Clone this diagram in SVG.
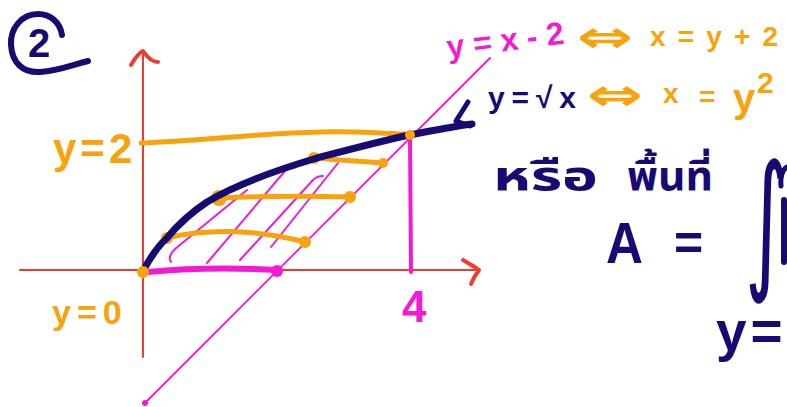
<svg xmlns="http://www.w3.org/2000/svg" width="787" height="407" viewBox="0 0 787 407">
<style>
.ax{stroke:#ee3b2b;fill:none;stroke-linecap:round;stroke-linejoin:round}
.nv{stroke:#170b73;fill:none;stroke-linecap:round;stroke-linejoin:round}
.or{stroke:#f8a20c;fill:none;stroke-linecap:round;stroke-linejoin:round}
.mg{stroke:#f21ad2;fill:none;stroke-linecap:round;stroke-linejoin:round}
.ord{fill:#f8a20c}
.mgd{fill:#f21ad2}
.t{font-family:"Liberation Sans",Arial,sans-serif;font-weight:bold}
.tn{fill:#170b73}
.to{fill:#f8a20c}
.tm{fill:#f21ad2}
.ar{font-family:"DejaVu Sans",sans-serif;font-weight:bold;fill:#f8a20c}
.th{font-family:"Noto Sans Thai","Noto Sans Thai Looped","Noto Sans","DejaVu Sans",sans-serif;font-weight:bold;fill:#170b73}
</style>
<rect width="787" height="407" fill="#ffffff"/>

<g id="label-2">
<path class="nv" stroke-width="6" d="M62,35 C60,22 50,14 38,14 C22,14 10,28 11,45 C12,62 22,73 40,72 C58,71 72,65 88,61"/>
<text class="t tn" x="28" y="57" font-size="40">2</text>
</g>

<g id="axes">
<path class="ax" stroke-width="2" d="M143,52 L143,357"/>
<path class="ax" stroke-width="4" d="M131,65 C135,58 139,53 143,51 C147,57 152,62 158,62"/>
<path class="ax" stroke-width="2" d="M20,270 L476,270"/>
<path class="ax" stroke-width="4" d="M463,260 C468,263 474,266 479,270 C476,274 473,279 471,284"/>
</g>

<g id="line-y-x-2">
<path class="mg" stroke-width="1.8" d="M145,403 L490,58"/>
<circle class="mgd" cx="145" cy="403" r="3"/>
</g>

<g id="hatch">
<path class="mg" stroke-width="2" d="M171,262 C168,258 170,254 175,249 L247,190"/>
<path class="mg" stroke-width="2" d="M207,263 L285,171 C287,168 291,167 294,168"/>
<path class="mg" stroke-width="2" d="M240,260 L313,180 C316,177 320,176 323,176"/>
<path class="mg" stroke-width="2" d="M271,247 L338,163"/>
</g>

<g id="strips">
<path class="or" stroke-width="5" d="M141,143 C200,141 260,133 320,132 C360,131 390,134 410,134"/>
<path class="or" stroke-width="5" d="M313,158 L383,163"/>
<circle class="ord" cx="314" cy="158" r="6"/>
<circle class="ord" cx="383" cy="163" r="5"/>
<path class="or" stroke-width="5" d="M218,198 C260,196 310,196 350,197"/>
<circle class="ord" cx="219" cy="198" r="8"/>
<circle class="ord" cx="350" cy="197" r="6"/>
<path class="or" stroke-width="5" d="M167,238 C210,228 260,230 305,242"/>
<circle class="ord" cx="167" cy="238" r="6"/>
<circle class="ord" cx="305" cy="242" r="6"/>
<path class="mg" stroke-width="6" d="M148,272 C190,268 240,268 277,270"/>
<circle class="mgd" cx="277" cy="271" r="6"/>
<path class="mg" stroke-width="4" d="M410,136 L411,272"/>
</g>

<g id="curve-sqrt">
<path class="nv" stroke-width="7" d="M143,271 C150,258 158,246 167,238 C180,222 195,210 207,202 C230,188 270,172 317,158 C355,148 385,140 410,135 C430,131 450,127 472,124"/>
<path class="nv" stroke-width="5" d="M468,102 L456,121 L470,126"/>
<circle class="ord" cx="143" cy="272" r="6"/>
<circle class="ord" cx="410" cy="135" r="5"/>
</g>

<g id="labels">
<text class="t to" x="53" y="163" font-size="42" letter-spacing="4">y=2</text>
<text class="t to" x="52" y="324" font-size="34" letter-spacing="6">y=0</text>
<text class="t tm" x="402" y="322" font-size="44">4</text>
<text class="t tm" x="448" y="58" font-size="32" textLength="118" lengthAdjust="spacing" transform="rotate(-7 448 58)">y=x-2</text>
<text class="ar" x="577" y="52" font-size="44" textLength="56" lengthAdjust="spacingAndGlyphs">⇔</text>
<text class="t to" x="650" y="46" font-size="28" textLength="128" lengthAdjust="spacing">x=y+2</text>
<text class="t tn" x="488" y="108" font-size="30" textLength="88" lengthAdjust="spacing">y=√x</text>
<text class="ar" x="587" y="110" font-size="44" textLength="56" lengthAdjust="spacingAndGlyphs">⇔</text>
<text class="t to" x="663" y="103" font-size="28">x</text>
<text class="t to" x="699" y="106" font-size="28">=</text>
<text class="t to" x="733" y="112" font-size="40">y</text>
<text class="t to" x="757" y="93" font-size="30">2</text>
</g>

<g id="formula">
<text class="th" x="493" y="190" font-size="40" textLength="105" lengthAdjust="spacingAndGlyphs">หรือ</text>
<text class="th" x="627" y="190" font-size="40" textLength="86" lengthAdjust="spacingAndGlyphs">พื้นที่</text>
<text class="t tn" x="606" y="263" font-size="58" textLength="37" lengthAdjust="spacingAndGlyphs">A</text>
<text class="t tn" x="674" y="260" font-size="50">=</text>
<text class="tn" font-family="DejaVu Sans,sans-serif" font-size="150" transform="translate(745 272) scale(0.55 1)">∫</text>
<path class="nv" stroke-width="6" d="M784,200 L784,262"/>
<path class="nv" stroke-width="5" d="M781,186 C780,176 783,169 787,167"/>
<text class="t tn" x="716" y="350" font-size="55" letter-spacing="4">y=</text>
</g>
</svg>
